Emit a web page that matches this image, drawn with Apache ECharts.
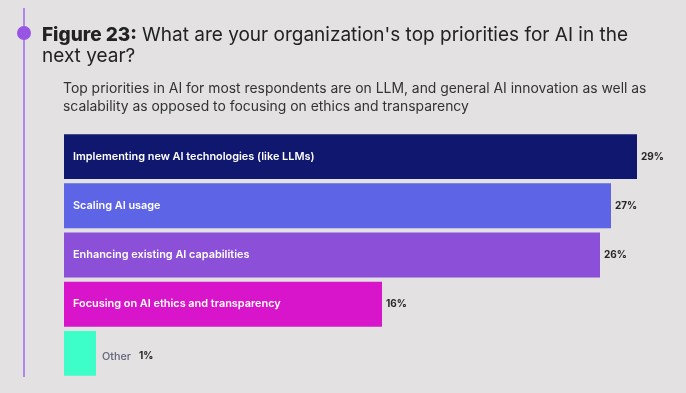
<!DOCTYPE html>
<html>
<head>
<meta charset="utf-8">
<script src="https://cdn.jsdelivr.net/npm/echarts@6/dist/echarts.min.js"></script>
<style>
  html, body { margin: 0; padding: 0; background: #e3e1e2; }
  #chart { width: 686px; height: 393px; }
</style>
</head>
<body>
<div id="chart"></div>
<script>
// ---- data ----
const titleBold = 'Figure 23:';
const titleRest = "What are your organization's top priorities for AI in the";
const titleLine2 = 'next year?';
const subtitleLines = [
  'Top priorities in AI for most respondents are on LLM, and general AI innovation as well as',
  'scalability as opposed to focusing on ethics and transparency'
];
const categories = [
  'Implementing new AI technologies (like LLMs)',
  'Scaling AI usage',
  'Enhancing existing AI capabilities',
  'Focusing on AI ethics and transparency',
  'Other'
];
// bar lengths as drawn in the picture (percent)
const barValues = [28.65, 27.35, 26.8, 15.9, 1.6];
// percentage labels printed next to the bars
const pctLabels = ['29%', '27%', '26%', '16%', '1%'];
const barColors = ['#10176e', '#5d64e6', '#8c4fd8', '#d915cc', '#3dfdc9'];

// ---- chart ----
const chart = echarts.init(document.getElementById('chart'), null, { renderer: 'canvas' });
const FONT = 'Inter, "Noto Sans", sans-serif';

const mainData = barValues.map((v, i) => ({
  value: v,
  itemStyle: { color: barColors[i] },
  label: i === categories.length - 1
    ? { distance: 6, offset: [0, 3], formatter: '{o|' + categories[i] + '}{p|' + pctLabels[i] + '}' }
    : { formatter: '{p|' + pctLabels[i] + '}' }
}));

const nameData = barValues.map((v, i) => ({
  value: v,
  label: { show: i !== categories.length - 1 }
}));

chart.setOption({
  backgroundColor: '#e3e1e2',
  animation: false,
  title: [
    {
      left: 37, top: 20,
      text: '{b|' + titleBold + '} {r|' + titleRest + '}\n{r|' + titleLine2 + '}',
      textStyle: {
        rich: {
          b: { fontFamily: FONT, fontSize: 19, fontWeight: 800, color: '#222222', lineHeight: 21 },
          r: { fontFamily: FONT, fontSize: 19, fontWeight: 'normal', color: '#222222', lineHeight: 21 }
        }
      }
    },
    {
      left: 58, top: 75,
      text: subtitleLines.join('\n'),
      textStyle: { fontFamily: FONT, fontSize: 13.9, fontWeight: 'normal', color: '#333333', lineHeight: 18 }
    }
  ],
  graphic: [
    { type: 'line', shape: { x1: 24, y1: 8, x2: 24, y2: 377 }, style: { stroke: '#a068f0', lineWidth: 1.5 }, silent: true },
    { type: 'circle', shape: { cx: 24, cy: 33, r: 7 }, style: { fill: '#9854e2' }, silent: true }
  ],
  grid: { left: 64, right: 22, top: 132, bottom: 15, containLabel: false },
  xAxis: {
    type: 'value', min: 0, max: 30,
    show: false
  },
  yAxis: {
    type: 'category', data: categories, inverse: true,
    show: false
  },
  series: [
    {
      type: 'bar',
      data: mainData,
      barCategoryGap: '8.7%',
      label: {
        show: true, position: 'right', distance: 4,
        rich: {
          p: { fontFamily: FONT, fontSize: 10, fontWeight: 'bold', color: '#262626' },
          o: { fontFamily: FONT, fontSize: 10.8, fontWeight: 500, color: '#62667a', padding: [0, 8, 0, 0] }
        }
      },
      z: 2
    },
    {
      type: 'bar',
      data: nameData,
      barGap: '-100%',
      barCategoryGap: '8.7%',
      itemStyle: { color: 'rgba(0,0,0,0)' },
      label: {
        show: true, position: 'insideLeft', distance: 9,
        formatter: (p) => categories[p.dataIndex],
        fontFamily: FONT, fontSize: 10.9, fontWeight: 600, color: '#ffffff'
      },
      silent: true,
      z: 3
    }
  ]
});
</script>
</body>
</html>
